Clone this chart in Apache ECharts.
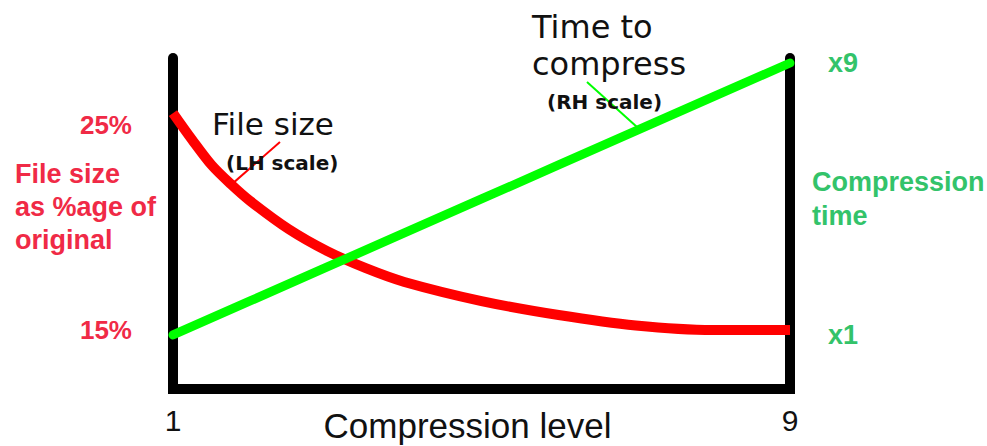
<!DOCTYPE html>
<html>
<head>
<meta charset="utf-8">
<style>
  html, body { margin: 0; padding: 0; background: #ffffff; }
  #chart { width: 987px; height: 446px; }
</style>
<script src="https://cdn.jsdelivr.net/npm/echarts@6/dist/echarts.min.js"></script>
</head>
<body>
<div id="chart"></div>
<script>
// Compression level (x), file size in % of original (left axis),
// relative compression time (right axis).
var sizeLevels = [1, 1.25, 1.5, 1.75, 2, 2.5, 3, 3.5, 4, 5, 6, 7, 8, 9];
var fileSizePct = [25.56, 24.25, 23.03, 22.1, 21.28, 19.91, 18.84, 18.01, 17.34, 16.41, 15.73, 15.22, 15.0, 15.0];

var timeLevels = [1, 2, 3, 4, 5, 6, 7, 8, 9];
var compressTime = [1, 2, 3, 4, 5, 6, 7, 8, 9];

var xTicks = [1, 9];
var sizeTicks = [15, 25];
var timeTicks = [1, 9];

// Leader lines from the captions to their curves, in data coordinates.
var sizePointer = [[2.387, 24.15], [1.778, 22.15]];
var timePointer = [[6.368, 8.44], [7.016, 7.12]];

var RED = '#ff0000';
var GREEN = '#00ff00';
var RED_TEXT = '#f02a46';
var GREEN_TEXT = '#33c36a';
var INK = '#111111';
var SANS = 'Arial, "Liberation Sans", sans-serif';

function pairs(xs, ys) {
  return xs.map(function (x, i) { return [x, ys[i]]; });
}

var chart = echarts.init(document.getElementById('chart'), null, { renderer: 'svg' });

chart.setOption({
  animation: false,
  backgroundColor: '#ffffff',
  grid: { left: 173, right: 197, top: 58, bottom: 57, containLabel: false, outerBoundsMode: 'none' },
  xAxis: {
    type: 'value',
    min: 1,
    max: 9,
    name: 'Compression level',
    nameLocation: 'middle',
    nameGap: 19,
    nameMoveOverlap: false,
    nameTextStyle: {
      fontFamily: SANS, fontSize: 35, color: INK, lineHeight: 35,
      verticalAlign: 'top', padding: [0, 28, 0, 0]
    },
    axisLine: { show: true, onZero: false, lineStyle: { color: '#000', width: 10, cap: 'square' } },
    axisTick: { show: false },
    splitLine: { show: false },
    axisLabel: {
      customValues: xTicks,
      fontFamily: SANS, fontSize: 30, color: INK,
      verticalAlign: 'middle', margin: 31
    }
  },
  yAxis: [
    {
      type: 'value',
      position: 'left',
      min: 12.13,
      max: 28.24,
      axisLine: { show: true, lineStyle: { color: '#000', width: 10, cap: 'round' } },
      axisTick: { show: false },
      splitLine: { show: false },
      axisLabel: {
        customValues: sizeTicks,
        formatter: '{value}%',
        fontFamily: SANS, fontWeight: 'bold', fontSize: 26, color: RED_TEXT,
        margin: 41
      }
    },
    {
      type: 'value',
      position: 'right',
      min: -0.59,
      max: 9.147,
      axisLine: { show: true, lineStyle: { color: '#000', width: 10, cap: 'round' } },
      axisTick: { show: false },
      splitLine: { show: false },
      axisLabel: {
        customValues: timeTicks,
        formatter: 'x{value}',
        fontFamily: SANS, fontWeight: 'bold', fontSize: 27, color: GREEN_TEXT,
        margin: 38
      }
    }
  ],
  series: [
    {
      name: 'File size',
      type: 'line',
      yAxisIndex: 0,
      data: pairs(sizeLevels, fileSizePct),
      smooth: 0.3,
      showSymbol: false,
      clip: false,
      z: 3,
      lineStyle: { color: RED, width: 10, cap: 'butt' },
      markLine: {
        silent: true,
        symbol: ['none', 'none'],
        label: { show: false },
        lineStyle: { color: RED, width: 2, type: 'solid' },
        data: [[{ coord: sizePointer[0] }, { coord: sizePointer[1] }]]
      }
    },
    {
      name: 'Time to compress',
      type: 'line',
      yAxisIndex: 1,
      data: pairs(timeLevels, compressTime),
      showSymbol: false,
      clip: false,
      z: 4,
      lineStyle: { color: GREEN, width: 9, cap: 'round' },
      markLine: {
        silent: true,
        symbol: ['none', 'none'],
        label: { show: false },
        lineStyle: { color: GREEN, width: 2, type: 'solid' },
        data: [[{ coord: timePointer[0] }, { coord: timePointer[1] }]]
      }
    }
  ],
  graphic: [
    {
      type: 'text', left: 15, top: 157, z: 10,
      style: {
        text: 'File size\nas %age of\noriginal',
        font: 'bold 27px Arial, "Liberation Sans", sans-serif', fill: RED_TEXT, lineHeight: 33
      }
    },
    {
      type: 'text', left: 812, top: 165, z: 10,
      style: {
        text: 'Compression\ntime',
        font: 'bold 27px Arial, "Liberation Sans", sans-serif', fill: GREEN_TEXT, lineHeight: 34
      }
    },
    {
      type: 'text', left: 212, top: 106, z: 10,
      style: { text: 'File size', font: '31px "DejaVu Sans"', fill: INK, lineHeight: 36 }
    },
    {
      type: 'text', left: 226, top: 150, z: 10,
      style: { text: '(LH scale)', font: 'bold 20px "DejaVu Sans"', fill: INK, lineHeight: 25 }
    },
    {
      type: 'text', left: 532, top: 8, z: 10,
      style: { text: 'Time to\ncompress', font: '32px "DejaVu Sans"', fill: INK, lineHeight: 37 }
    },
    {
      type: 'text', left: 547, top: 89, z: 10,
      style: { text: '(RH scale)', font: 'bold 20px "DejaVu Sans"', fill: INK, lineHeight: 26 }
    }
  ]
});
</script>
</body>
</html>
